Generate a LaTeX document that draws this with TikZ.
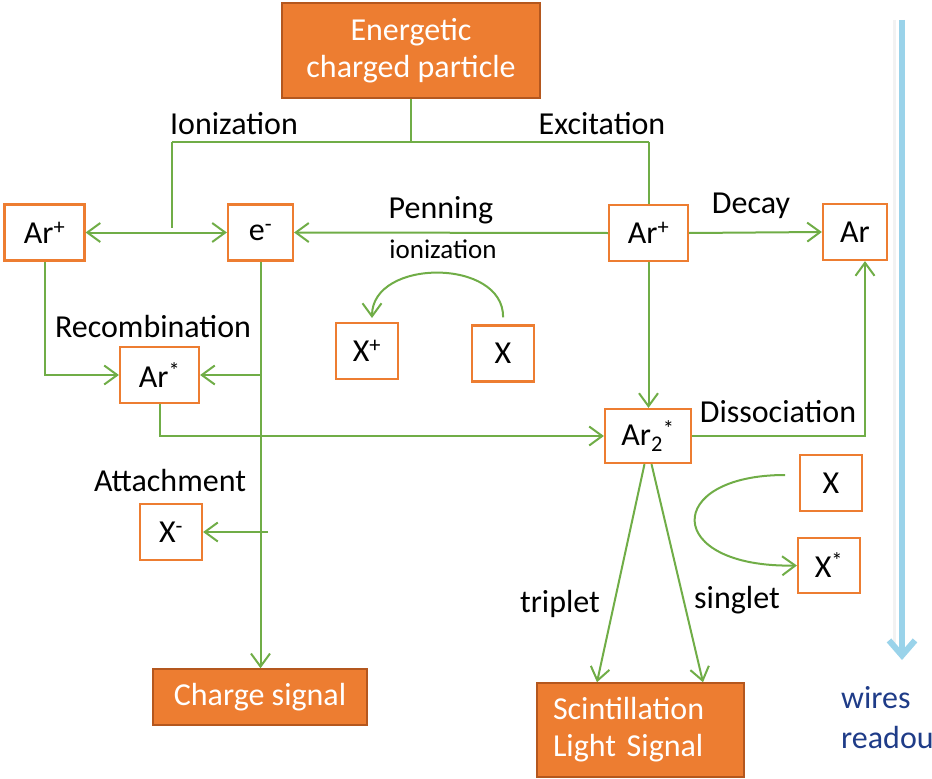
\documentclass[tikz,border=0pt]{standalone}
\usepackage{fontspec}
\setmainfont{Carlito}
\usetikzlibrary{arrows.meta}

\definecolor{boxorange}{HTML}{ED7D31}
\definecolor{boxedge}{HTML}{B4571E}
\definecolor{flowgreen}{HTML}{70AD47}
\definecolor{wireblue}{HTML}{9AD3EA}
\definecolor{textblue}{HTML}{1F3C88}

\tikzset{
  big font/.style={font=\fontsize{32bp}{37bp}\selectfont},
  stbox/.style={draw=boxorange, line width=2.2bp, fill=white, inner sep=0pt,
                minimum height=56bp, big font},
  sigbox/.style={draw=boxedge, line width=1.5bp, fill=boxorange, text=white,
                 inner sep=0pt, big font},
  link/.style={draw=flowgreen, line width=2bp},
  arrowend/.style={-{Straight Barb[length=13bp,width=19bp]}},
  arrowboth/.style={{Straight Barb[length=13bp,width=19bp]}-{Straight Barb[length=13bp,width=19bp]}},
  tag/.style={anchor=base, inner sep=0pt, big font},
}

\begin{document}
\begin{tikzpicture}[x=1bp,y=-1bp]
\useasboundingbox (0,0) rectangle (932,779);

% readout direction bar
\draw[gray!10, line width=3bp] (894.5,20) -- (894.5,650);
\draw[wireblue, line width=6bp, -{Straight Barb[length=15bp,width=26bp]}]
  (902,20) -- (902,660);
\node[tag, anchor=base west, text=textblue] (wires) at (841,708) {wires};
\node[tag, anchor=base west, text=textblue] (readout) at (841,748) {readou};

% source and signal boxes
\node[sigbox, minimum width=258bp, minimum height=95bp, align=center] (src)
  at (411,50.5) {Energetic\\charged particle};
\node[sigbox, minimum width=214bp, minimum height=56bp] (charge)
  at (260,697) {Charge signal};
\node[sigbox, minimum width=207bp, minimum height=94bp, text width=175bp, align=left] (scint)
  at (640.5,730) {Scintillation\\Light Signal};

% species
\node[stbox, minimum width=80bp] (ionL)  at (44.5,232.5) {Ar\textsuperscript{+}};
\node[stbox, minimum width=65bp] (elec)  at (260.5,232.5) {e\textsuperscript{-}};
\node[stbox, minimum width=79bp] (ionR)  at (648.5,233) {Ar\textsuperscript{+}};
\node[stbox, minimum width=64bp] (argon) at (855,232) {Ar};
\node[stbox, minimum width=62bp] (xplus) at (367,351) {X\textsuperscript{+}};
\node[stbox, minimum width=62bp] (xpen)  at (503,353.5) {X};
\node[stbox, minimum width=79bp] (excit) at (159.5,375) {Ar\textsuperscript{*}};
\node[stbox, minimum width=86bp, minimum height=54bp] (dimer) at (648,436)
  {Ar\textsubscript{2}\textsuperscript{*}};
\node[stbox, minimum width=62bp] (xminus) at (171,532) {X\textsuperscript{-}};
\node[stbox, minimum width=62bp] (xq)    at (831,483) {X};
\node[stbox, minimum width=62bp, minimum height=55bp] (xstar) at (829,565.5)
  {X\textsuperscript{*}};

% process labels
\node[tag] (lion)  at (234,134) {Ionization};
\node[tag] (lexc)  at (602,134) {Excitation};
\node[tag] (lpen)  at (441,218) {Penning};
\node[tag, font=\fontsize{27bp}{32bp}\selectfont] (lpen2) at (443,258) {ionization};
\node[tag] (ldec)  at (751,213) {Decay};
\node[tag] (ldis)  at (778,422) {Dissociation};
\node[tag] (lrec)  at (153,337) {Recombination};
\node[tag] (latt)  at (170,491) {Attachment};
\node[tag] (ltri)  at (560,612) {triplet};
\node[tag] (lsin)  at (737,608) {singlet};

% branching points
\coordinate (jT) at (411,142);
\coordinate (jI) at (172,142);
\coordinate (jE) at (649,142);
\coordinate (jIend) at (172,228);
\coordinate (eA) at (261,375);
\coordinate (eX) at (268,532);
\coordinate (dC) at (865,436);
\coordinate (penEnd) at (372,318);

% ionization / excitation split
\draw[link] (src.south) -- (jT);
\draw[link] (jI) -- (jE);
\draw[link] (jI) -- (jIend);
\draw[link] (jE) -- (jE |- ionR.north);
\draw[link, arrowboth] (ionL.east) -- (elec.west);

% Penning ionization, decay
\draw[link, arrowend] (ionR.west) -- (elec.east);
\draw[link, arrowend] (ionR.east) -- (argon.west);
\draw[link, arrowend, shorten <=7bp] (xpen.north)
  .. controls (504,258) and (372,258) .. (penEnd);

% excitation to dimer, dissociation
\draw[link, arrowend] (ionR.south) -- (ionR.south |- dimer.north);
\draw[link, arrowend] (dimer.east) -- (dC) -- (dC |- argon.south);

% recombination
\draw[link, arrowend] (ionL.south) |- (excit.west);
\draw[link, arrowend] (eA) -- (excit.east);
\draw[link, arrowend] (excit.south) |- (dimer.west);

% electron drift and attachment
\draw[link, arrowend] (elec.south) -- (elec.south |- charge.north);
\draw[link, arrowend] (eX) -- (xminus.east);

% quenching by impurities
\draw[link, arrowend] (785,475) .. controls (663,475) and (663,568) .. (xstar.west);

% light emission
\draw[link, arrowend] ([xshift=-3.5bp]dimer.south) -- ([xshift=-43.5bp]scint.north);
\draw[link, arrowend] ([xshift=3.5bp]dimer.south) -- ([xshift=62.5bp]scint.north);
\end{tikzpicture}
\end{document}
